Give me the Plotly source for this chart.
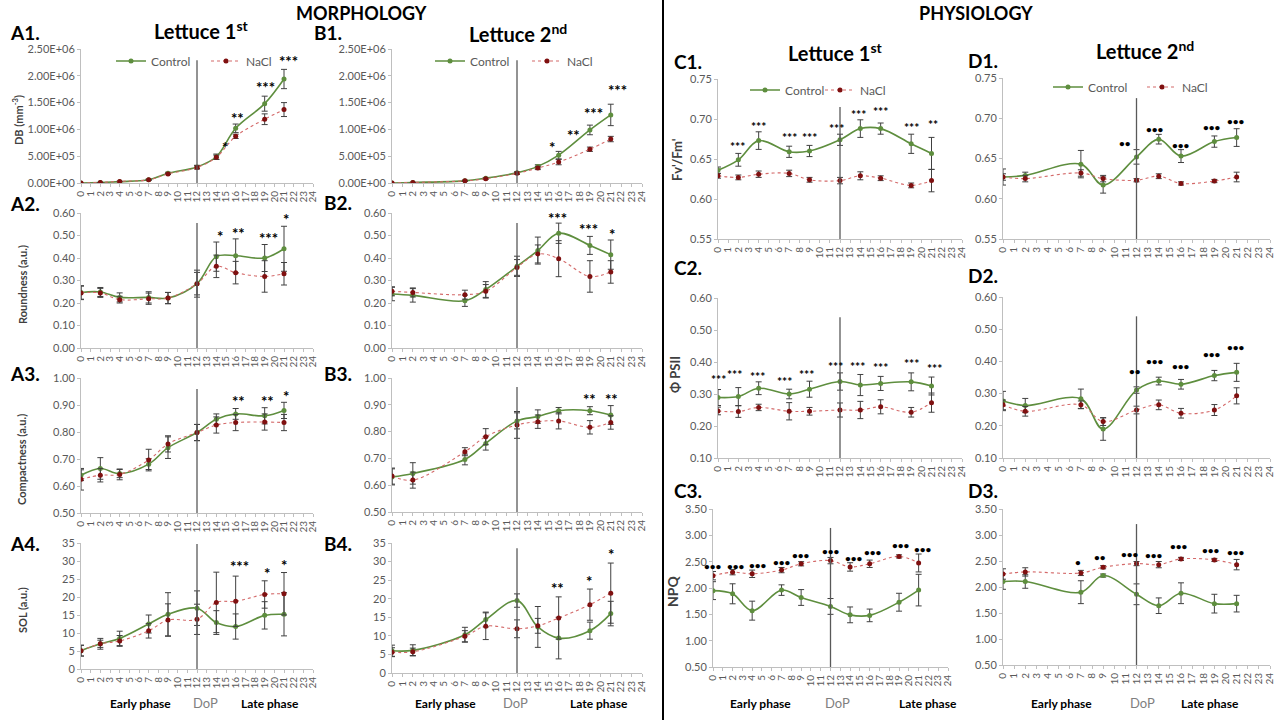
import plotly.graph_objects as go

W, H = 1280, 720

# sampling days
days_1st = [0, 2, 4, 7, 9, 12, 14, 16, 19, 21]
days_2nd = [0, 2, 7, 9, 12, 14, 16, 19, 21]
x_ticks = list(range(0, 25))
dop_day = 12

# ---------------- MORPHOLOGY, lettuce 1st ----------------
a1_ctrl = [0, 1e4, 2.5e4, 6e4, 1.8e5, 3.0e5, 4.9e5, 1.02e6, 1.48e6, 1.94e6]
a1_nacl = [0, 1e4, 3e4, 6e4, 1.7e5, 2.9e5, 4.8e5, 8.7e5, 1.19e6, 1.37e6]
a1_ctrl_err = [0, 0, 0, 1e4, 2e4, 3e4, 5e4, 8e4, 1.4e5, 1.8e5]
a1_nacl_err = [0, 0, 0, 1e4, 1e4, 3e4, 4e4, 4e4, 1.0e5, 1.3e5]
a1_sig_x = [14.9, 16.2, 19.1, 21.5]
a1_sig_y = [6.8e5, 1.22e6, 1.8e6, 2.28e6]
a1_sig = ["*", "**", "***", "***"]

a2_ctrl = [0.247, 0.249, 0.225, 0.225, 0.222, 0.286, 0.406, 0.41, 0.40, 0.441]
a2_nacl = [0.245, 0.245, 0.215, 0.219, 0.222, 0.286, 0.363, 0.335, 0.318, 0.33]
a2_ctrl_err = [0.03, 0.02, 0.02, 0.025, 0.025, 0.06, 0.065, 0.075, 0.06, 0.1]
a2_nacl_err = [0.03, 0.02, 0.015, 0.025, 0.025, 0.05, 0.05, 0.05, 0.07, 0.05]
a2_sig_x = [14.4, 16.3, 19.4, 21.2]
a2_sig_y = [0.50, 0.51, 0.49, 0.575]
a2_sig = ["*", "**", "***", "*"]

a3_ctrl = [0.640, 0.665, 0.646, 0.681, 0.742, 0.798, 0.847, 0.867, 0.86, 0.88]
a3_nacl = [0.625, 0.64, 0.643, 0.696, 0.756, 0.798, 0.826, 0.835, 0.837, 0.835]
a3_ctrl_err = [0.02, 0.04, 0.015, 0.02, 0.04, 0.03, 0.02, 0.02, 0.03, 0.03]
a3_nacl_err = [0.04, 0.025, 0.02, 0.04, 0.03, 0.03, 0.03, 0.03, 0.03, 0.03]
a3_sig_x = [16.3, 19.3, 21.2]
a3_sig_y = [0.913, 0.913, 0.934]
a3_sig = ["**", "**", "*"]

a4_ctrl = [5.1, 7.0, 8.5, 12.5, 15.2, 16.9, 12.9, 11.8, 14.9, 15.2]
a4_nacl = [5.1, 7.0, 7.8, 10.6, 13.6, 13.8, 18.5, 18.8, 20.7, 20.9]
a4_ctrl_err = [1.5, 1.5, 2.0, 2.5, 6.0, 4.8, 3.3, 3.5, 3.8, 6.0]
a4_nacl_err = [1.5, 1.0, 1.5, 2.0, 4.5, 4.2, 8.4, 7.0, 3.8, 5.9]
a4_sig_x = [16.4, 19.2, 21.0]
a4_sig_y = [28.5, 26.8, 29.0]
a4_sig = ["***", "*", "*"]

# ---------------- MORPHOLOGY, lettuce 2nd ----------------
b1_ctrl = [0, 1e4, 4e4, 9e4, 1.9e5, 3.1e5, 5.2e5, 9.9e5, 1.27e6]
b1_nacl = [0, 1e4, 4e4, 8e4, 1.8e5, 2.8e5, 3.9e5, 6.3e5, 8.2e5]
b1_ctrl_err = [0, 0, 1e4, 1e4, 2e4, 3e4, 7e4, 9e4, 2.0e5]
b1_nacl_err = [0, 0, 1e4, 1e4, 2e4, 3e4, 5e4, 4e4, 5e4]
b1_sig_x = [15.4, 17.4, 19.3, 21.6]
b1_sig_y = [6.75e5, 9.0e5, 1.3e6, 1.74e6]
b1_sig = ["*", "**", "***", "***"]

b2_ctrl = [0.24, 0.234, 0.21, 0.26, 0.363, 0.433, 0.51, 0.456, 0.415]
b2_nacl = [0.252, 0.247, 0.237, 0.252, 0.358, 0.418, 0.397, 0.318, 0.338]
b2_ctrl_err = [0.03, 0.03, 0.025, 0.035, 0.045, 0.06, 0.045, 0.04, 0.065]
b2_nacl_err = [0.02, 0.02, 0.02, 0.03, 0.035, 0.04, 0.08, 0.07, 0.05]
b2_sig_x = [15.9, 18.9, 21.1]
b2_sig_y = [0.58, 0.53, 0.507]
b2_sig = ["***", "***", "*"]

b3_ctrl = [0.631, 0.644, 0.696, 0.756, 0.84, 0.856, 0.878, 0.878, 0.862]
b3_nacl = [0.634, 0.619, 0.725, 0.781, 0.825, 0.837, 0.84, 0.816, 0.834]
b3_ctrl_err = [0.03, 0.04, 0.02, 0.025, 0.03, 0.025, 0.012, 0.015, 0.035]
b3_nacl_err = [0.03, 0.03, 0.015, 0.03, 0.05, 0.025, 0.03, 0.025, 0.025]
b3_sig_x = [19.0, 21.1]
b3_sig_y = [0.92, 0.92]
b3_sig = ["**", "**"]

b4_ctrl = [6.0, 6.1, 10.3, 14.4, 19.5, 12.4, 9.4, 11.4, 16.0]
b4_nacl = [5.6, 5.7, 9.9, 12.6, 11.9, 12.7, 14.8, 18.4, 21.5]
b4_ctrl_err = [1.5, 1.5, 2.0, 2.0, 1.8, 5.5, 5.6, 2.3, 3.3]
b4_nacl_err = [1.2, 1.0, 1.5, 3.6, 2.4, 2.0, 5.7, 4.2, 8.1]
b4_sig_x = [15.9, 18.9, 21.0]
b4_sig_y = [22.9, 24.9, 32.0]
b4_sig = ["**", "*", "*"]

# ---------------- PHYSIOLOGY, lettuce 1st ----------------
c1_ctrl = [0.636, 0.649, 0.673, 0.659, 0.660, 0.674, 0.688, 0.688, 0.669, 0.657]
c1_nacl = [0.629, 0.627, 0.631, 0.632, 0.624, 0.623, 0.629, 0.626, 0.617, 0.623]
c1_ctrl_err = [0.004, 0.008, 0.011, 0.007, 0.007, 0.007, 0.011, 0.007, 0.012, 0.02]
c1_nacl_err = [0.003, 0.003, 0.004, 0.004, 0.003, 0.004, 0.005, 0.003, 0.003, 0.014]
c1_sig_x = [1.9, 4, 7, 9, 11.7, 13.8, 16, 19, 21.1]
c1_sig_y = [0.666, 0.691, 0.677, 0.677, 0.688, 0.706, 0.709, 0.689, 0.693]
c1_sig = ["***"] * 8 + ["**"]

c2_ctrl = [0.289, 0.292, 0.318, 0.30, 0.315, 0.339, 0.328, 0.333, 0.338, 0.325]
c2_nacl = [0.247, 0.245, 0.258, 0.246, 0.246, 0.25, 0.25, 0.26, 0.243, 0.273]
c2_ctrl_err = [0.025, 0.028, 0.02, 0.015, 0.025, 0.027, 0.033, 0.022, 0.028, 0.028]
c2_nacl_err = [0.012, 0.018, 0.01, 0.027, 0.012, 0.022, 0.027, 0.022, 0.015, 0.03]
c2_sig_x = [0.0, 1.6, 3.9, 6.5, 8.7, 11.6, 13.7, 16.0, 19.0, 21.3]
c2_sig_y = [0.346, 0.36, 0.354, 0.339, 0.362, 0.385, 0.385, 0.382, 0.396, 0.38]
c2_sig = ["***"] * 10

c3_ctrl = [1.95, 1.89, 1.57, 1.96, 1.82, 1.65, 1.49, 1.48, 1.73, 1.96]
c3_nacl = [2.234, 2.30, 2.27, 2.34, 2.46, 2.52, 2.40, 2.46, 2.60, 2.475]
c3_ctrl_err = [0.17, 0.19, 0.18, 0.1, 0.15, 0.15, 0.15, 0.12, 0.17, 0.3]
c3_nacl_err = [0.08, 0.05, 0.07, 0.05, 0.04, 0.06, 0.08, 0.07, 0.03, 0.17]
c3_sig_x = [0.0, 2.3, 4.6, 7.0, 9.0, 12.0, 14.4, 16.3, 19.2, 21.4]
c3_sig_y = [2.42, 2.42, 2.44, 2.49, 2.62, 2.70, 2.57, 2.68, 2.82, 2.75]
c3_sig = ["•••"] * 10

# ---------------- PHYSIOLOGY, lettuce 2nd ----------------
d1_ctrl = [0.627, 0.629, 0.643, 0.617, 0.652, 0.674, 0.653, 0.671, 0.676]
d1_nacl = [0.627, 0.625, 0.632, 0.625, 0.623, 0.628, 0.619, 0.622, 0.627]
d1_ctrl_err = [0.01, 0.004, 0.017, 0.01, 0.009, 0.006, 0.008, 0.007, 0.011]
d1_nacl_err = [0.004, 0.004, 0.004, 0.004, 0.002, 0.003, 0.002, 0.002, 0.006]
d1_sig_x = [11.0, 13.7, 16.0, 18.8, 20.9]
d1_sig_y = [0.669, 0.687, 0.667, 0.689, 0.697]
d1_sig = ["••", "•••", "•••", "•••", "•••"]

d2_ctrl = [0.277, 0.263, 0.284, 0.19, 0.311, 0.339, 0.329, 0.356, 0.366]
d2_nacl = [0.265, 0.245, 0.265, 0.213, 0.249, 0.265, 0.239, 0.249, 0.293]
d2_ctrl_err = [0.03, 0.022, 0.03, 0.035, 0.01, 0.012, 0.015, 0.016, 0.028]
d2_nacl_err = [0.015, 0.015, 0.012, 0.012, 0.012, 0.015, 0.015, 0.017, 0.025]
d2_sig_x = [11.9, 13.7, 16.0, 18.8, 20.9]
d2_sig_y = [0.371, 0.402, 0.386, 0.423, 0.445]
d2_sig = ["••", "•••", "•••", "•••", "•••"]

d3_ctrl = [2.106, 2.106, 1.90, 2.22, 1.86, 1.64, 1.88, 1.68, 1.68]
d3_nacl = [2.25, 2.29, 2.27, 2.38, 2.45, 2.43, 2.54, 2.52, 2.43]
d3_ctrl_err = [0.15, 0.13, 0.22, 0.03, 0.2, 0.15, 0.2, 0.18, 0.16]
d3_nacl_err = [0.1, 0.08, 0.05, 0.03, 0.04, 0.06, 0.03, 0.03, 0.1]
d3_sig_x = [6.7, 8.7, 11.4, 13.6, 15.8, 18.7, 20.9]
d3_sig_y = [2.49, 2.57, 2.64, 2.62, 2.78, 2.72, 2.68]
d3_sig = ["•", "••", "•••", "•••", "•••", "•••", "•••"]

db_ticks = [0, 5e5, 1e6, 1.5e6, 2e6, 2.5e6]
db_ticktext = ["0.00E+00", "5.00E+05", "1.00E+06", "1.50E+06", "2.00E+06", "2.50E+06"]

GREEN = "#5E8E3E"
RED_LINE = "#D46A6A"
RED_MK = "#7F1010"
ERR = "#404040"
AXIS = "#BFBFBF"
TICKFONT = dict(family="Lato", size=11, color="#595959")


# screen pixel -> paper fraction
def px(x):
    return x / W


def py(y):
    return 1 - y / H


def dom_x(a, b):
    return [px(a), px(b)]


def dom_y(top, bottom):
    return [py(bottom), py(top)]


# (days, ctrl, nacl, ctrl_err, nacl_err, sig_x, sig_y, sig, yrange, dtick, fmt, xpx, ypx, dop_top, legends)
panels = [
    (days_1st, a1_ctrl, a1_nacl, a1_ctrl_err, a1_nacl_err, a1_sig_x, a1_sig_y, a1_sig,
     [0, 2.5e6], None, None, (81, 313), (49, 183), 2.29e6, ("legend", "legend2")),
    (days_1st, a2_ctrl, a2_nacl, a2_ctrl_err, a2_nacl_err, a2_sig_x, a2_sig_y, a2_sig,
     [0, 0.6], 0.1, ".2f", (81, 313), (213, 348), 0.556, None),
    (days_1st, a3_ctrl, a3_nacl, a3_ctrl_err, a3_nacl_err, a3_sig_x, a3_sig_y, a3_sig,
     [0.5, 1.0], 0.1, ".2f", (81, 313), (378, 513), 0.959, None),
    (days_1st, a4_ctrl, a4_nacl, a4_ctrl_err, a4_nacl_err, a4_sig_x, a4_sig_y, a4_sig,
     [0, 35], 5, "d", (81, 313), (543, 669), 34.7, None),
    (days_2nd, b1_ctrl, b1_nacl, b1_ctrl_err, b1_nacl_err, b1_sig_x, b1_sig_y, b1_sig,
     [0, 2.5e6], None, None, (392, 642), (49, 183), 2.29e6, ("legend3", "legend4")),
    (days_2nd, b2_ctrl, b2_nacl, b2_ctrl_err, b2_nacl_err, b2_sig_x, b2_sig_y, b2_sig,
     [0, 0.6], 0.1, ".2f", (392, 642), (213, 348), 0.556, None),
    (days_2nd, b3_ctrl, b3_nacl, b3_ctrl_err, b3_nacl_err, b3_sig_x, b3_sig_y, b3_sig,
     [0.5, 1.0], 0.1, ".2f", (392, 642), (378, 512), 0.966, None),
    (days_2nd, b4_ctrl, b4_nacl, b4_ctrl_err, b4_nacl_err, b4_sig_x, b4_sig_y, b4_sig,
     [0, 35], 5, "d", (392, 642), (543, 673), 33.6, None),
    (days_1st, c1_ctrl, c1_nacl, c1_ctrl_err, c1_nacl_err, c1_sig_x, c1_sig_y, c1_sig,
     [0.55, 0.75], 0.05, ".2f", (718, 962), (79, 239), 0.715, ("legend5", "legend6")),
    (days_1st, c2_ctrl, c2_nacl, c2_ctrl_err, c2_nacl_err, c2_sig_x, c2_sig_y, c2_sig,
     [0.1, 0.6], 0.1, ".2f", (718, 962), (298, 458), 0.54, None),
    (days_1st, c3_ctrl, c3_nacl, c3_ctrl_err, c3_nacl_err, c3_sig_x, c3_sig_y, c3_sig,
     [0.5, 3.5], 0.5, ".2f", (713, 948), (509, 667), 3.14, None),
    (days_2nd, d1_ctrl, d1_nacl, d1_ctrl_err, d1_nacl_err, d1_sig_x, d1_sig_y, d1_sig,
     [0.55, 0.75], 0.05, ".2f", (1003, 1270), (78, 239), 0.725, ("legend7", "legend8")),
    (days_2nd, d2_ctrl, d2_nacl, d2_ctrl_err, d2_nacl_err, d2_sig_x, d2_sig_y, d2_sig,
     [0.1, 0.6], 0.1, ".2f", (1003, 1270), (297, 458), 0.54, None),
    (days_2nd, d3_ctrl, d3_nacl, d3_ctrl_err, d3_nacl_err, d3_sig_x, d3_sig_y, d3_sig,
     [0.5, 3.5], 0.5, ".2f", (1003, 1270), (509, 665), 3.21, None),
]

fig = go.Figure()
layout = {}
shapes = []
annotations = []

for i, (days, ctrl, nacl, ce, ne, sx, sy, sig, yr, dtick, fmt, xpx, ypx, dop_top, legs) in enumerate(panels):
    n = i + 1
    xa = "x" if n == 1 else f"x{n}"
    ya = "y" if n == 1 else f"y{n}"
    show = legs is not None
    fig.add_trace(go.Scatter(x=days, y=ctrl, xaxis=xa, yaxis=ya, name="Control",
                             mode="lines+markers", line=dict(color=GREEN, width=1.6, shape="spline"),
                             marker=dict(color=GREEN, size=5),
                             error_y=dict(type="data", array=ce, color=ERR, thickness=1, width=3),
                             showlegend=show, legend=legs[0] if show else "legend"))
    fig.add_trace(go.Scatter(x=days, y=nacl, xaxis=xa, yaxis=ya, name="NaCl",
                             mode="lines+markers", line=dict(color=RED_LINE, width=1.1, dash="dot", shape="spline"),
                             marker=dict(color=RED_MK, size=5),
                             error_y=dict(type="data", array=ne, color=ERR, thickness=1, width=3),
                             showlegend=show, legend=legs[1] if show else "legend"))

    xkey = "xaxis" if n == 1 else f"xaxis{n}"
    ykey = "yaxis" if n == 1 else f"yaxis{n}"
    layout[xkey] = dict(domain=dom_x(*xpx), anchor=ya, range=[0, 24], tickmode="array",
                        tickvals=x_ticks, tickangle=-90, tickfont=dict(family="Lato", size=10, color="#595959"),
                        showline=True, linecolor=AXIS, linewidth=1, ticks="outside", ticklen=3,
                        tickcolor=AXIS, showgrid=False, zeroline=False, automargin=False)
    ydict = dict(domain=dom_y(*ypx), anchor=xa, range=yr, showline=True, linecolor=AXIS,
                 linewidth=1, ticks="outside", ticklen=3, tickcolor=AXIS, showgrid=False,
                 zeroline=False, tickfont=TICKFONT, automargin=False)
    if dtick is None:
        ydict.update(tickmode="array", tickvals=db_ticks, ticktext=db_ticktext)
    else:
        ydict.update(dtick=dtick, tick0=yr[0], tickformat=fmt)
    layout[ykey] = ydict

    shapes.append(dict(type="line", xref=xa, yref=ya, x0=dop_day, x1=dop_day, y0=yr[0], y1=dop_top,
                       line=dict(color="#595959", width=1.3)))
    small = n in (9, 10)
    for tx, ty, tt in zip(sx, sy, sig):
        if "•" in tt:
            size = 10
        elif small:
            size = 12
        else:
            size = 15
        annotations.append(dict(x=tx, y=ty, xref=xa, yref=ya, text=tt, showarrow=False,
                                yanchor="middle",
                                font=dict(family="Lato", size=size, color="black", weight="bold")))

# separator between morphology and physiology
shapes.append(dict(type="line", xref="paper", yref="paper", x0=px(663), x1=px(663), y0=0, y1=1,
                   line=dict(color="black", width=2)))


def txt(x, y, text, size, color="black", bold=True, angle=0, anchor="center"):
    annotations.append(dict(x=px(x), y=py(y), xref="paper", yref="paper", text=text,
                            showarrow=False, xanchor=anchor, yanchor="middle", textangle=angle,
                            font=dict(family="Lato", size=size, color=color,
                                      weight="bold" if bold else "normal")))


txt(361, 13, "MORPHOLOGY", 18)
txt(976, 13, "PHYSIOLOGY", 18)
txt(201, 30, "Lettuce 1<sup>st</sup>", 20)
txt(518, 33, "Lettuce 2<sup>nd</sup>", 20)
txt(835, 52, "Lettuce 1<sup>st</sup>", 20)
txt(1145, 50, "Lettuce 2<sup>nd</sup>", 20)

for label, x, y in [("A1.", 8, 33), ("A2.", 8, 203), ("A3.", 8, 373), ("A4.", 8, 543),
                    ("B1.", 312, 33), ("B2.", 322, 202), ("B3.", 322, 373), ("B4.", 322, 543),
                    ("C1.", 672, 61), ("C2.", 672, 267), ("C3.", 672, 490),
                    ("D1.", 966, 60), ("D2.", 966, 275), ("D3.", 966, 490)]:
    txt(x, y, label, 19, anchor="left")

txt(18, 120, "DB (mm<sup>-3</sup>)", 11, color="#404040", angle=-90)
txt(23, 285, "Roundness (a.u.)", 11, color="#404040", angle=-90)
txt(22, 460, "Compactness (a.u.)", 11, color="#404040", angle=-90)
txt(22, 610, "SOL (a.u.)", 11, color="#404040", angle=-90)
txt(677, 160, "Fv'/Fm'", 13, color="#404040", angle=-90)
txt(675, 375, "Φ PSII", 13, color="#404040", angle=-90)
txt(672, 592, "NPQ", 14, color="#404040", angle=-90)

for early, dop, late in [(140, 205, 270), (445, 515, 599), (760, 837, 928), (1061, 1142, 1210)]:
    txt(early, 703, "Early phase", 12)
    txt(dop, 703, "DoP", 13, color="#7F7F7F", bold=False)
    txt(late, 703, "Late phase", 12)

legend_style = dict(orientation="h", xanchor="left", yanchor="middle", bgcolor="rgba(0,0,0,0)",
                    font=dict(family="Lato", size=12, color="#595959"), itemwidth=30)
# one legend box per entry so each sits where the reference puts it
legend_pos = {"legend": (111, 61), "legend2": (206, 61),
              "legend3": (430, 61), "legend4": (527, 61),
              "legend5": (745, 90), "legend6": (820, 90),
              "legend7": (1048, 87), "legend8": (1142, 87)}
for key, (lx, ly) in legend_pos.items():
    layout[key] = dict(legend_style, x=px(lx), y=py(ly))

fig.update_layout(width=W, height=H, margin=dict(l=0, r=0, t=0, b=0, autoexpand=False),
                  paper_bgcolor="white", plot_bgcolor="white",
                  font=dict(family="Lato"), shapes=shapes, annotations=annotations, **layout)

# drop the browser's default body margin so the figure starts at the window corner
fig.write_html("out.html", config={"displayModeBar": False},
               post_script="document.body.style.margin = '0';")
